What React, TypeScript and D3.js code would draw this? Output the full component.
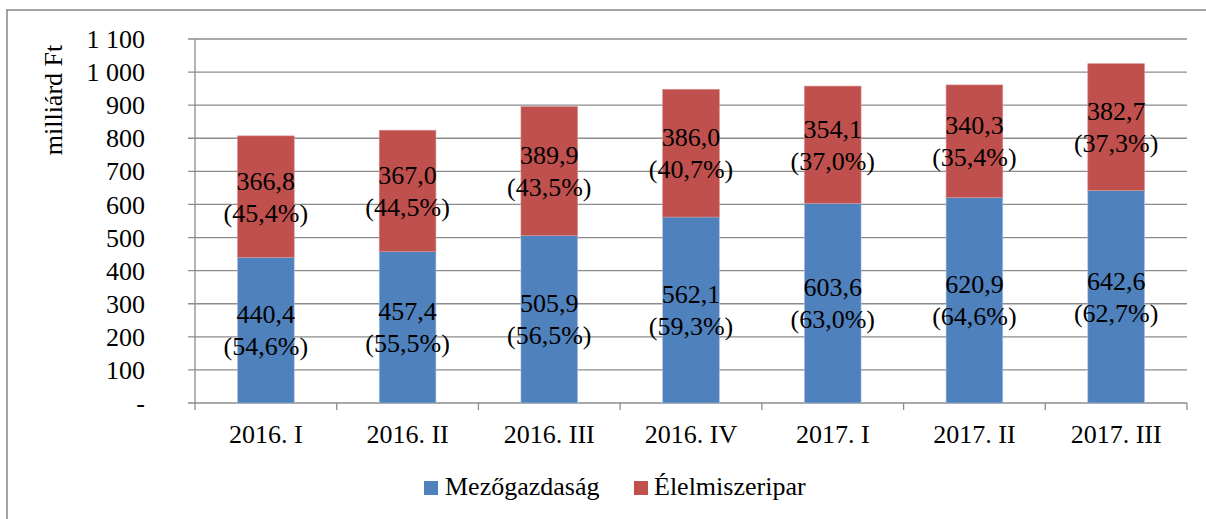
import React from 'react';
import * as d3 from 'd3';

const categories = ['2016. I', '2016. II', '2016. III', '2016. IV', '2017. I', '2017. II', '2017. III'];
const mezogazdasag = [440.4, 457.4, 505.9, 562.1, 603.6, 620.9, 642.6];
const elelmiszeripar = [366.8, 367.0, 389.9, 386.0, 354.1, 340.3, 382.7];
const mezoPct = [54.6, 55.5, 56.5, 59.3, 63.0, 64.6, 62.7];
const elelPct = [45.4, 44.5, 43.5, 40.7, 37.0, 35.4, 37.3];
const yTicks = [0, 100, 200, 300, 400, 500, 600, 700, 800, 900, 1000, 1100];
const seriesNames = ['Mezőgazdaság', 'Élelmiszeripar'];
const colors = ['#4F81BD', '#C0504D'];

const fmt = (v: number) => v.toFixed(1).replace('.', ',');
const tickFmt = (v: number) => (v === 0 ? '-' : v >= 1000 ? `${Math.floor(v / 1000)} ${String(v % 1000).padStart(3, '0')}` : String(v));

export default function App() {
  const W = 1206, H = 519;
  const left = 195, right = 1187, top = 39, bottom = 403;
  const font = '"Liberation Serif", "Times New Roman", Times, serif';
  const x = d3.scaleBand<string>().domain(categories).range([left, right]).paddingInner(0.6).paddingOuter(0.3);
  const xb = d3.scaleBand<string>().domain(categories).range([left, right]);
  const y = d3.scaleLinear().domain([0, 1100]).range([bottom, top]);
  const fs = 26;
  return (
    <svg width={W} height={H} style={{ position: 'absolute', left: 0, top: 0 }} fontFamily={font}>
      <rect x={0} y={0} width={W} height={H} fill="#fff" />
      <rect x={7} y={10} width={1210} height={520} fill="none" stroke="#868686" strokeWidth={1.5} />
      {yTicks.map((t) => (
        <g key={t}>
          <line x1={left - 7} x2={right} y1={y(t)} y2={y(t)} stroke="#8c8c8c" strokeWidth={1.3} />
          <text x={145} y={y(t)} dy="0.35em" textAnchor="end" fontSize={fs}>{tickFmt(t)}</text>
        </g>
      ))}
      <line x1={left} x2={left} y1={top} y2={bottom} stroke="#8c8c8c" strokeWidth={1.3} />
      {categories.map((c, i) => (
        <line key={'t' + i} x1={xb(c)! + xb.bandwidth()} x2={xb(c)! + xb.bandwidth()} y1={bottom} y2={bottom + 7} stroke="#8c8c8c" strokeWidth={1.3} />
      ))}
      <line x1={left} x2={left} y1={bottom} y2={bottom + 7} stroke="#8c8c8c" strokeWidth={1.3} />
      {categories.map((c, i) => {
        const bx = x(c)!;
        const bw = x.bandwidth();
        const v1 = mezogazdasag[i];
        const v2 = elelmiszeripar[i];
        const cx = bx + bw / 2;
        const c1 = y(v1 / 2);
        const c2 = y(v1 + v2 / 2);
        return (
          <g key={c}>
            <rect x={bx} y={y(v1)} width={bw} height={y(0) - y(v1)} fill={colors[0]} stroke="#a9c0e0" strokeWidth={0.6} />
            <rect x={bx} y={y(v1 + v2)} width={bw} height={y(v1) - y(v1 + v2)} fill={colors[1]} stroke="#d8908e" strokeWidth={0.6} />
            <text x={cx} y={c1 - 16} dy="0.35em" textAnchor="middle" fontSize={fs}>{fmt(v1)}</text>
            <text x={cx} y={c1 + 16} dy="0.35em" textAnchor="middle" fontSize={fs}>({fmt(mezoPct[i])}%)</text>
            <text x={cx} y={c2 - 16} dy="0.35em" textAnchor="middle" fontSize={fs}>{fmt(v2)}</text>
            <text x={cx} y={c2 + 16} dy="0.35em" textAnchor="middle" fontSize={fs}>({fmt(elelPct[i])}%)</text>
            <text x={xb(c)! + xb.bandwidth() / 2} y={443} textAnchor="middle" fontSize={fs}>{c}</text>
          </g>
        );
      })}
      <text transform="translate(62,100) rotate(-90)" textAnchor="middle" fontSize={fs}>milliárd Ft</text>
      <rect x={424} y={481} width={14} height={14} fill={colors[0]} />
      <text x={445} y={495} fontSize={fs}>{seriesNames[0]}</text>
      <rect x={634} y={481} width={14} height={14} fill={colors[1]} />
      <text x={654} y={495} fontSize={fs}>{seriesNames[1]}</text>
    </svg>
  );
}
